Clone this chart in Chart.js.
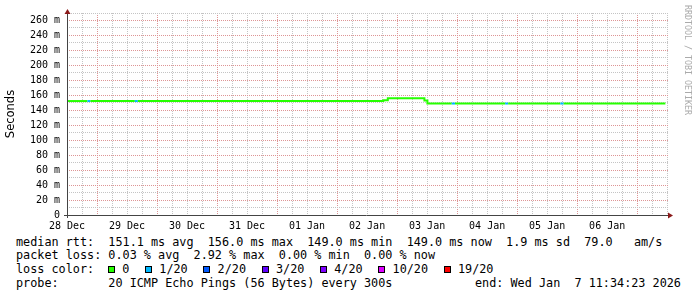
<!DOCTYPE html>
<html>
<head>
<meta charset="utf-8">
<script src="https://cdn.jsdelivr.net/npm/chart.js@4.4.1/dist/chart.umd.min.js"></script>
<style>
  html, body { margin: 0; padding: 0; background: #fff; }
  #wrap { position: relative; width: 697px; height: 297px; overflow: hidden;
          font-family: "DejaVu Sans Mono", monospace; color: #000; }
  #chart { position: absolute; left: 0; top: 0; }
  .txt { position: absolute; font-size: 11.8px; line-height: 14px; white-space: pre; }
  #lossItems { position: absolute; left: 108px; top: 262px; height: 14px;
               display: flex; align-items: center; font-size: 11.8px; white-space: pre; }
  .box { display: inline-block; width: 7px; height: 7px; box-sizing: border-box;
         border: 1px solid #000; margin-right: 7.3px; }
  .item { margin-right: 15.6px; }
  #brand { position: absolute; left: 683px; top: 5px; writing-mode: vertical-rl;
           font-size: 8.3px; color: #aaa; white-space: pre; }
</style>
</head>
<body>
<div id="wrap">
  <canvas id="chart" width="697" height="230"></canvas>
  <div id="brand">RRDTOOL / TOBI OETIKER</div>
  <div class="txt" id="l1" style="left:16px; top:234.7px;"></div>
  <div class="txt" id="l2" style="left:16px; top:248px;"></div>
  <div class="txt" id="l3" style="left:16px; top:261.7px;">loss color:</div>
  <div id="lossItems"></div>
  <div class="txt" id="l4" style="left:16px; top:275.7px;"></div>
  <div class="txt" id="l5" style="left:475px; top:275.7px;"></div>
</div>
<script>
/************ DATA ************/
// time in days since 28 Dec 00:00
const days     = [0, 0.34, 0.39, 1.13, 1.18, 5.27, 5.345, 5.955, 6.005, 6.41, 6.465, 7.30, 7.35, 8.22, 8.275, 9.97];
const rttMs    = [152.3, 152.3, 152.3, 152.3, 152.3, 153.5, 156, 153, 149, 149, 149, 149, 149, 149, 149, 149];
const lossOf20 = [0, 1, 0, 1, 0, 0, 0, 0, 0, 1, 0, 1, 0, 1, 0, 0];

const dayLabels = ["28 Dec", "29 Dec", "30 Dec", "31 Dec", "01 Jan", "02 Jan", "03 Jan", "04 Jan", "05 Jan", "06 Jan"];
const yLabels = ["0", "20 m", "40 m", "60 m", "80 m", "100 m", "120 m", "140 m",
                 "160 m", "180 m", "200 m", "220 m", "240 m", "260 m"];

const lossSteps  = [0, 1, 2, 3, 4, 10, 19];
const lossLegend = ["0", "1/20", "2/20", "3/20", "4/20", "10/20", "19/20"];
const lossColors = ["#26ff00", "#00b8ff", "#0059ff", "#5e00ff", "#7e00ff", "#dd00ff", "#ff0000"];

const statLines = [
  "median rtt:  151.1 ms avg  156.0 ms max  149.0 ms min  149.0 ms now  1.9 ms sd  79.0   am/s",
  "packet loss: 0.03 % avg  2.92 % max  0.00 % min  0.00 % now",
  "probe:       20 ICMP Echo Pings (56 Bytes) every 300s"
];
const endLine = "end: Wed Jan  7 11:34:23 2026";

/************ TEXT ************/
document.getElementById("l1").textContent = statLines[0];
document.getElementById("l2").textContent = statLines[1];
document.getElementById("l4").textContent = statLines[2];
document.getElementById("l5").textContent = endLine;

const itemsEl = document.getElementById("lossItems");
lossLegend.forEach((lab, i) => {
  const b = document.createElement("span");
  b.className = "box";
  b.style.background = lossColors[i];
  const t = document.createElement("span");
  t.className = "item";
  t.textContent = lab;
  itemsEl.appendChild(b);
  itemsEl.appendChild(t);
});

function lossColor(n) {
  let c = lossColors[0];
  lossSteps.forEach((s, i) => { if (n >= s) c = lossColors[i]; });
  return c;
}

/************ CHART ************/
const GRID_MINOR = "#c4c4c4";
const GRID_MAJOR = "#dd9595";
const AXIS = "#444";
const ARROW = "#8b1a1a";

const arrows = {
  id: "arrows",
  afterDraw(chart) {
    const {ctx, chartArea: a} = chart;
    ctx.save();
    ctx.strokeStyle = AXIS;
    ctx.lineWidth = 1;
    ctx.beginPath();
    ctx.moveTo(a.left + 0.5, a.bottom + 3);
    ctx.lineTo(a.left + 0.5, a.top - 2);
    ctx.moveTo(a.left - 3, a.bottom + 0.5);
    ctx.lineTo(a.right, a.bottom + 0.5);
    ctx.stroke();
    ctx.fillStyle = ARROW;
    ctx.beginPath();
    ctx.moveTo(a.left + 0.5, a.top - 4);
    ctx.lineTo(a.left - 2.5, a.top + 1);
    ctx.lineTo(a.left + 3.5, a.top + 1);
    ctx.closePath();
    ctx.fill();
    ctx.beginPath();
    ctx.moveTo(a.right + 4, a.bottom + 0.5);
    ctx.lineTo(a.right - 1, a.bottom - 2.5);
    ctx.lineTo(a.right - 1, a.bottom + 3.5);
    ctx.closePath();
    ctx.fill();
    ctx.restore();
  }
};

Chart.defaults.font.family = "'DejaVu Sans Mono', monospace";
Chart.defaults.color = "#000";

new Chart(document.getElementById("chart"), {
  type: "line",
  data: {
    datasets: [{
      data: days.map((d, i) => ({x: d, y: rttMs[i]})),
      borderColor: lossColors[0],
      borderWidth: 2,
      borderCapStyle: "butt",
      pointRadius: 0,
      fill: false,
      stepped: "before",
      segment: {
        borderColor: c => lossColor(lossOf20[c.p0DataIndex])
      }
    }]
  },
  options: {
    responsive: false,
    animation: false,
    layout: { padding: { top: 12, right: 28, left: 0, bottom: 0 } },
    plugins: { legend: { display: false }, tooltip: { enabled: false } },
    scales: {
      x: {
        type: "linear",
        min: 0,
        max: 10.03,
        afterBuildTicks: s => {
          const t = [];
          for (let k = 0; k <= 40; k++) t.push({value: k * 0.25});
          s.ticks = t;
        },
        afterFit: s => { s.height = 15; },
        ticks: {
          autoSkip: false, maxRotation: 0, minRotation: 0, padding: 5,
          font: { size: 10 },
          callback: v => (Number.isInteger(v) && v < dayLabels.length) ? dayLabels[v] : ""
        },
        grid: {
          drawTicks: false,
          lineWidth: 1,
          color: c => (c.tick && Math.abs(c.tick.value % 1 - 0.5) < 1e-6) ? GRID_MAJOR : GRID_MINOR
        },
        border: { display: false, dash: [1, 1] }
      },
      y: {
        min: 0,
        max: 270,
        afterBuildTicks: s => {
          const t = [];
          for (let v = 0; v <= 270; v += 10) t.push({value: v});
          s.ticks = t;
        },
        afterFit: s => { s.width = 67; },
        ticks: {
          autoSkip: false, padding: 7,
          font: { size: 10 },
          callback: v => (v % 20 === 0) ? yLabels[v / 20] : ""
        },
        grid: {
          drawTicks: false,
          lineWidth: 1,
          color: c => (c.tick && c.tick.value % 20 === 0) ? GRID_MAJOR : GRID_MINOR
        },
        border: { display: false, dash: [1, 1] },
        title: {
          display: true,
          text: "Seconds",
          font: { family: "'DejaVu Sans', sans-serif", size: 11.5 },
          padding: { top: 4, bottom: 0 }
        }
      }
    }
  },
  plugins: [arrows]
});
</script>
</body>
</html>
